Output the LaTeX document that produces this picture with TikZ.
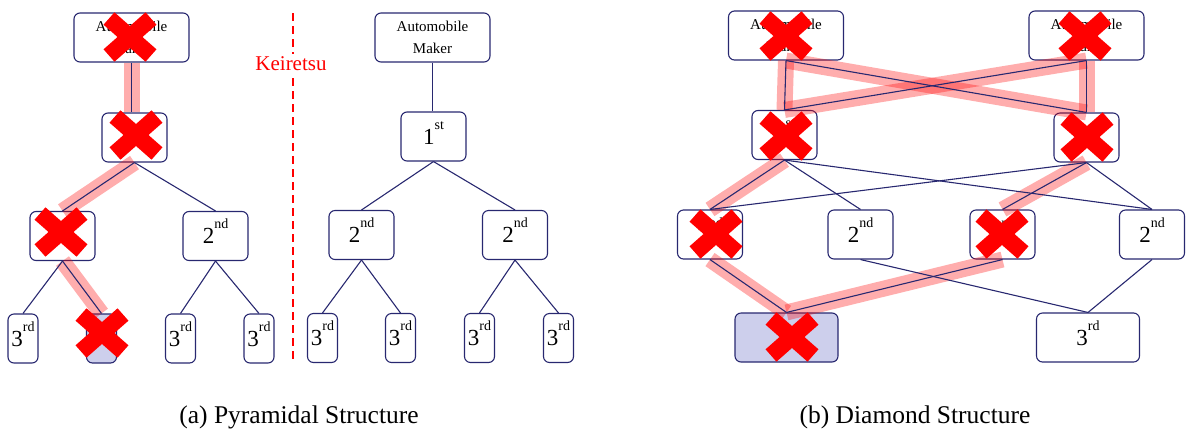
\documentclass[tikz,border=0pt]{standalone}
\usepackage{fontspec}
\setmainfont{Liberation Serif}
\definecolor{navy}{RGB}{40,40,112}
\definecolor{lav}{RGB}{205,207,236}
\newcommand\ordtxt[2]{{\fontsize{23}{23}\selectfont #1}\smash{\raisebox{15pt}{\fontsize{14}{14}\selectfont #2}}}
\tikzset{
  box/.style={draw=navy, line width=1.1pt, rounded corners=6pt, inner sep=0pt, align=center},
  makerbox/.style={box, minimum width=115pt, minimum height=49pt, font=\fontsize{15}{22}\selectfont},
  midbox/.style={box, minimum width=65pt, minimum height=49pt},
  thinbox/.style={box, minimum width=30pt, minimum height=49pt},
  widebox/.style={box, minimum width=103pt, minimum height=49pt},
  struck/.style={fill=lav},
  edge/.style={draw=navy, line width=1.1pt},
  band/.style={draw=red, line width=16pt, opacity=0.32},
  xmark/.style={draw=red, line width=16.5pt},
  xcross/.pic={\draw[xmark] (-21,-18.5) -- (21,18.5) (-21,18.5) -- (21,-18.5);},
  caption/.style={anchor=base, font=\fontsize{25.5}{28}\selectfont},
}
\begin{document}
\begin{tikzpicture}[x=1pt, y=-1pt]
\useasboundingbox (0,0) rectangle (1201,432);

% ---------------- (a) pyramidal structure ----------------
% left tree
\node[makerbox] (pamL) at (131.5,37.5) {Automobile\\Maker};
\node[midbox] (pfL) at (134.5,137.5) {};
\node[midbox] (ps1L) at (62.5,236) {};
\node[midbox] (ps2L) at (215.5,236) {\ordtxt{2}{nd}};
\node[thinbox] (pt1) at (23,338.5) {\ordtxt{3}{rd}};
\node[thinbox, struck] (pt2) at (101.5,338.5) {};
\node[thinbox] (pt3) at (180.5,338.5) {\ordtxt{3}{rd}};
\node[thinbox] (pt4) at (259,338.5) {\ordtxt{3}{rd}};
% right tree
\node[makerbox] (pamR) at (432.5,37.5) {Automobile\\Maker};
\node[midbox] (pfR) at (433.5,136.5) {\ordtxt{1}{st}};
\node[midbox] (ps1R) at (361.5,235) {\ordtxt{2}{nd}};
\node[midbox] (ps2R) at (515,235) {\ordtxt{2}{nd}};
\node[thinbox] (pt5) at (322.5,338) {\ordtxt{3}{rd}};
\node[thinbox] (pt6) at (400.5,338) {\ordtxt{3}{rd}};
\node[thinbox] (pt7) at (479.5,338) {\ordtxt{3}{rd}};
\node[thinbox] (pt8) at (558.5,338) {\ordtxt{3}{rd}};

% broken supply chain
\draw[band] (pamL.south) -- (pamL.south |- pfL.north);
\draw[band] (pfL.south) -- (ps1L.north);
\draw[band] (ps1L.south) -- (pt2.north);

\draw[edge] (pamL.south) -- (pamL.south |- pfL.north);
\draw[edge] (pfL.south) -- (ps1L.north);
\draw[edge] (pfL.south) -- (ps2L.north);
\draw[edge] (ps1L.south) -- (pt1.north);
\draw[edge] (ps1L.south) -- (pt2.north);
\draw[edge] (ps2L.south) -- (pt3.north);
\draw[edge] (ps2L.south) -- (pt4.north);

\draw[edge] (pamR.south) -- (pamR.south |- pfR.north);
\draw[edge] (pfR.south) -- (ps1R.north);
\draw[edge] (pfR.south) -- (ps2R.north);
\draw[edge] (ps1R.south) -- (pt5.north);
\draw[edge] (ps1R.south) -- (pt6.north);
\draw[edge] (ps2R.south) -- (pt7.north);
\draw[edge] (ps2R.south) -- (pt8.north);

% keiretsu boundary
\coordinate (dtop) at (293,13);
\coordinate (dbot) at (293,363);
\draw[red, line width=2pt, dash pattern=on 8pt off 5pt] (dtop) -- (dbot);
\node[fill=white, text=red, font=\fontsize{21}{21}\selectfont, inner sep=3pt] (keir) at (291,64) {Keiretsu};

\path (130,37) pic {xcross};
\path (136,135) pic {xcross};
\path (61,232) pic {xcross};
\path (102,333) pic {xcross};

\node[caption] (capa) at (299,423) {(a) Pyramidal Structure};

% ---------------- (b) diamond structure ----------------
\node[makerbox] (dA1) at (786,35.5) {Automobile\\Maker};
\node[makerbox] (dA2) at (1086.5,35.5) {Automobile\\Maker};
\node[midbox] (dF1) at (784.5,135) {\ordtxt{1}{st}};
\node[midbox] (dF2) at (1086.5,137.5) {};
\node[midbox] (dSa) at (710,234.5) {\ordtxt{2}{nd}};
\node[midbox] (dSb) at (860.5,234.5) {\ordtxt{2}{nd}};
\node[midbox] (dSc) at (1002.5,234.5) {\ordtxt{2}{nd}};
\node[midbox] (dSd) at (1152,234.5) {\ordtxt{2}{nd}};
\node[widebox, struck] (dTe) at (786.5,337.5) {};
\node[widebox] (dTf) at (1088,337.5) {\ordtxt{3}{rd}};

\draw[band] (dA1.south) -- (dF1.north);
\draw[band] (dA1.south) -- (dF2.north);
\draw[band] (dA2.south) -- (dF2.north);
\draw[band] (dA2.south) -- (dF1.north);
\draw[band] (dF1.south) -- (dSa.north);
\draw[band] (dF2.south) -- (dSc.north);
\draw[band] (dSa.south) -- (dTe.north);
\draw[band] (dSc.south) -- (dTe.north);

\draw[edge] (dA1.south) -- (dF1.north);
\draw[edge] (dA1.south) -- (dF2.north);
\draw[edge] (dA2.south) -- (dF2.north);
\draw[edge] (dA2.south) -- (dF1.north);
\draw[edge] (dF1.south) -- (dSa.north);
\draw[edge] (dF1.south) -- (dSb.north);
\draw[edge] (dF1.south) -- (dSd.north);
\draw[edge] (dF2.south) -- (dSc.north);
\draw[edge] (dF2.south) -- (dSa.north);
\draw[edge] (dF2.south) -- (dSd.north);
\draw[edge] (dSa.south) -- (dTe.north);
\draw[edge] (dSc.south) -- (dTe.north);
\draw[edge] (dSb.south) -- (dTf.north);
\draw[edge] (dSd.south) -- (dTf.north);

\path (786,36) pic {xcross};
\path (1085,36) pic {xcross};
\path (786,136) pic {xcross};
\path (1087,137) pic {xcross};
\path (716,234) pic {xcross};
\path (1002,234) pic {xcross};
\path (792,337) pic {xcross};

\node[caption] (capb) at (915,423) {(b) Diamond Structure};
\end{tikzpicture}
\end{document}
